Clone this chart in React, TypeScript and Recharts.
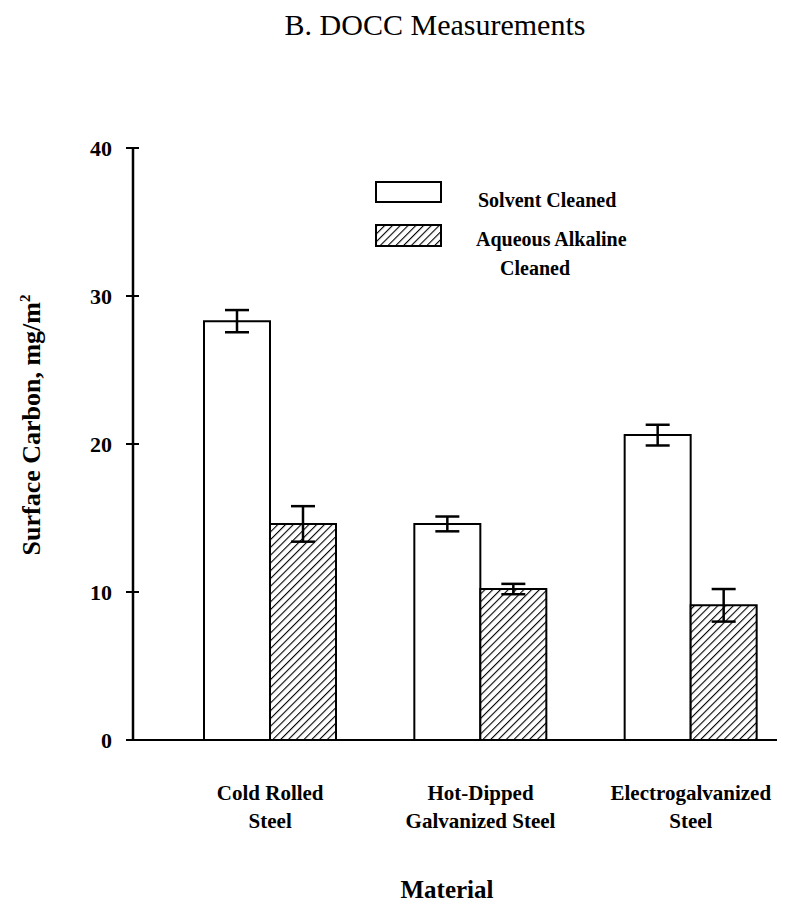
import { BarChart, Bar, XAxis, YAxis, ErrorBar } from "recharts";

const materials = ["Cold Rolled Steel", "Hot-Dipped Galvanized Steel", "Electrogalvanized Steel"];
const materialLines = [
  ["Cold Rolled", "Steel"],
  ["Hot-Dipped", "Galvanized Steel"],
  ["Electrogalvanized", "Steel"],
];
const solvent = [28.3, 14.6, 20.6];
const solventErr = [0.75, 0.5, 0.7];
const aqueous = [14.6, 10.2, 9.1];
const aqueousErr = [1.2, 0.35, 1.1];
const yTicks = [0, 10, 20, 30, 40];

const data = materials.map((m, i) => ({
  material: m,
  solvent: solvent[i],
  solventErr: solventErr[i],
  aqueous: aqueous[i],
  aqueousErr: aqueousErr[i],
}));

const FONT = '"Liberation Serif", "Times New Roman", serif';

function YTick(props: any) {
  const { x, y, payload } = props;
  return (
    <g>
      <line x1={x - 7} x2={x + 6} y1={y} y2={y} stroke="#000" strokeWidth={2} />
      <text x={x - 21} y={y} dy={8} textAnchor="end" fontFamily={FONT} fontWeight="bold" fontSize={22} fill="#000">
        {payload.value}
      </text>
    </g>
  );
}

function XTick(props: any) {
  const { x, y, index } = props;
  const lines = materialLines[index] || [];
  return (
    <g>
      {lines.map((t, i) => (
        <text key={i} x={x} y={y + 60 + i * 28} textAnchor="middle" fontFamily={FONT} fontWeight="bold" fontSize={21} fill="#000">
          {t}
        </text>
      ))}
    </g>
  );
}

function ChartLegend() {
  return (
    <svg width={300} height={110} style={{ position: "absolute", left: 367, top: 172, overflow: "visible" }}>
      <rect x={1} y={2} width={65} height={20} fill="#fff" stroke="#000" strokeWidth={2} />
      <rect x={1} y={45} width={65} height={21} fill="url(#hatch)" stroke="#000" strokeWidth={2} />
      <g fontFamily={FONT} fontWeight="bold" fontSize={20} fill="#000">
        <text x={103} y={27}>Solvent Cleaned</text>
        <text x={101} y={66}>Aqueous Alkaline</text>
        <text x={160} y={95} textAnchor="middle">Cleaned</text>
      </g>
    </svg>
  );
}

export default function App() {
  return (
    <div style={{ position: "relative", width: 777, height: 894, background: "#fff" }}>
      <svg width={0} height={0} style={{ position: "absolute" }}>
        <defs>
          <pattern id="hatch" patternUnits="userSpaceOnUse" width={5.5} height={5.5} patternTransform="rotate(45)">
            <rect width={5.5} height={5.5} fill="#fff" />
            <line x1={0} y1={0} x2={0} y2={5.5} stroke="#000" strokeWidth={2.2} />
          </pattern>
        </defs>
      </svg>
      <svg width={777} height={60} style={{ position: "absolute", left: 0, top: 0 }}>
        <text x={427} y={27} textAnchor="middle" fontFamily={FONT} fontSize={30} fill="#000">
          B. DOCC Measurements
        </text>
      </svg>
      <BarChart
        width={777}
        height={894}
        data={data}
        margin={{ top: 140, right: 0, bottom: 132, left: 65 }}
        barSize={66}
        barGap={0}
      >
        <XAxis
          dataKey="material"
          axisLine={{ stroke: "#000", strokeWidth: 2 }}
          tickLine={false}
          tickSize={0}
          tickMargin={0}
          tick={<XTick />}
          interval={0}
          padding={{ left: 32, right: -11 }}
          label={{
            content: () => (
              <text x={439} y={890} textAnchor="middle" fontFamily={FONT} fontWeight="bold" fontSize={25} fill="#000">
                Material
              </text>
            ),
          }}
        />
        <YAxis
          width={60}
          domain={[0, 40]}
          ticks={yTicks}
          axisLine={{ stroke: "#000", strokeWidth: 2.5 }}
          tickLine={false}
          tickSize={0}
          tickMargin={0}
          tick={<YTick />}
          label={{
            content: () => (
              <text
                x={32}
                y={417}
                transform="rotate(-90 32 417)"
                textAnchor="middle"
                fontFamily={FONT}
                fontWeight="bold"
                fontSize={26}
                fill="#000"
              >
                Surface Carbon, mg/m
                <tspan dy={-10} fontSize={15}>2</tspan>
              </text>
            ),
          }}
        />
        <Bar dataKey="solvent" fill="#fff" stroke="#000" strokeWidth={2} isAnimationActive={false}>
          <ErrorBar dataKey="solventErr" width={12} stroke="#000" strokeWidth={2.5} />
        </Bar>
        <Bar dataKey="aqueous" fill="url(#hatch)" stroke="#000" strokeWidth={2} isAnimationActive={false}>
          <ErrorBar dataKey="aqueousErr" width={12} stroke="#000" strokeWidth={2.5} />
        </Bar>
      </BarChart>
      <ChartLegend />
    </div>
  );
}
